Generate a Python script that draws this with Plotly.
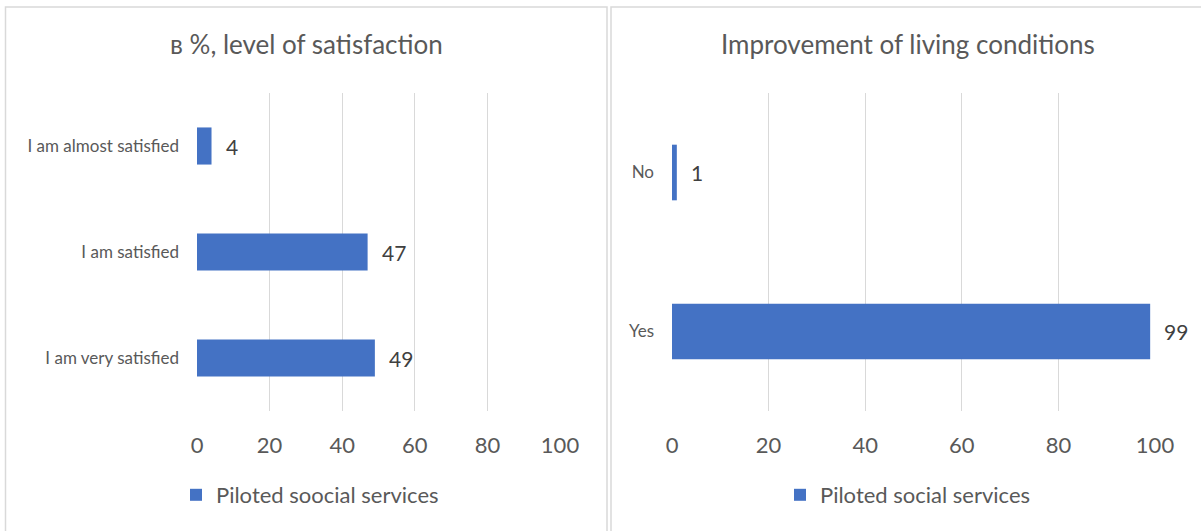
import plotly.graph_objects as go

# Satisfaction survey (percent)
satisfaction_levels = ["I am very satisfied", "I am satisfied", "I am almost satisfied"]
satisfaction_values = [49, 47, 4]

# Improvement of living conditions (percent)
improvement_answers = ["Yes", "No"]
improvement_values = [99, 1]

x_ticks = [0, 20, 40, 60, 80, 100]

left_title = "в %, level of satisfaction"
right_title = "Improvement of living conditions"
left_series = "Piloted soocial services"
right_series = "Piloted social services"

W, H = 1201, 531
BAR = "#4472C4"
TXT = "#595959"
LBL = "#404040"
GRID = "#d9d9d9"
FONT = "Lato, 'Open Sans', sans-serif"


def px_x(p):
    return p / W


def px_y(p):
    return 1 - p / H


fig = go.Figure()

fig.add_trace(go.Bar(
    x=satisfaction_values, y=satisfaction_levels, orientation="h",
    marker=dict(color=BAR, line=dict(width=0)), width=0.35,
    name=left_series, xaxis="x", yaxis="y", legend="legend",
    showlegend=True, hoverinfo="x+y",
))
fig.add_trace(go.Bar(
    x=improvement_values, y=improvement_answers, orientation="h",
    marker=dict(color=BAR, line=dict(width=0)), width=0.35,
    name=right_series, xaxis="x2", yaxis="y2", legend="legend2",
    showlegend=True, hoverinfo="x+y",
))

y_dom = [px_y(411), px_y(93)]
axis_common = dict(
    range=[0, 100], tickvals=x_ticks, showgrid=True, gridcolor=GRID, gridwidth=1,
    zeroline=False, showline=False, ticks="", fixedrange=True, automargin=False,
    tickfont=dict(size=22, color=TXT, family=FONT), ticklabelstandoff=19,
)
yaxis_common = dict(
    showgrid=False, zeroline=False, showline=False, ticks="", fixedrange=True,
    automargin=False,
    tickfont=dict(size=17, color=TXT, family=FONT), ticklabelstandoff=17,
)

annotations = []
# value labels placed just past each bar end
for cats, vals, xr, yr in [
    (satisfaction_levels, satisfaction_values, "x", "y"),
    (improvement_answers, improvement_values, "x2", "y2"),
]:
    for c, v in zip(cats, vals):
        annotations.append(dict(
            x=v, y=c, xref=xr, yref=yr, text=str(v), showarrow=False,
            xanchor="left", yanchor="middle", xshift=12,
            font=dict(size=21, color=LBL, family=FONT),
        ))

annotations.append(dict(
    x=px_x(306), y=px_y(44), xref="paper", yref="paper", text=left_title,
    showarrow=False, xanchor="center", yanchor="middle",
    font=dict(size=26, color=TXT, family=FONT),
))
annotations.append(dict(
    x=px_x(908), y=px_y(44), xref="paper", yref="paper", text=right_title,
    showarrow=False, xanchor="center", yanchor="middle",
    font=dict(size=26, color=TXT, family=FONT),
))

shapes = [
    dict(type="rect", xref="paper", yref="paper",
         x0=px_x(5.5), x1=px_x(607), y0=-0.1, y1=px_y(7),
         line=dict(color=GRID, width=1.5), layer="below"),
    dict(type="rect", xref="paper", yref="paper",
         x0=px_x(611), x1=1.1, y0=-0.1, y1=px_y(7),
         line=dict(color=GRID, width=1.5), layer="below"),
]

legend_common = dict(
    orientation="h", xanchor="left", yanchor="middle", visible=True,
    font=dict(size=22, color=TXT, family=FONT),
    bgcolor="rgba(0,0,0,0)", itemclick=False, itemdoubleclick=False,
)

fig.update_layout(
    width=W, height=H, margin=dict(l=0, r=0, t=0, b=0, autoexpand=False),
    paper_bgcolor="white", plot_bgcolor="white",
    font=dict(family=FONT, color=TXT),
    showlegend=True,
    xaxis=dict(domain=[px_x(197), px_x(560)], anchor="y", **axis_common),
    yaxis=dict(domain=y_dom, anchor="x", **yaxis_common),
    xaxis2=dict(domain=[px_x(672), px_x(1155)], anchor="y2", **axis_common),
    yaxis2=dict(domain=y_dom, anchor="x2", **yaxis_common),
    legend=dict(x=px_x(176), y=px_y(495), **legend_common),
    legend2=dict(x=px_x(780), y=px_y(495), **legend_common),
    annotations=annotations,
    shapes=shapes,
    bargap=0.65,
)

fig.write_html("out.html")
